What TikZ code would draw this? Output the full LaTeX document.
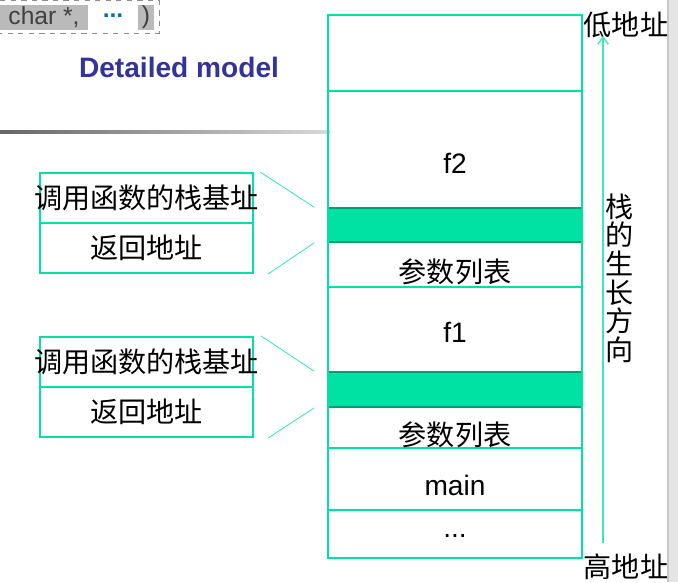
\documentclass[tikz,border=0pt]{standalone}
\usepackage{fontspec}
\setmainfont{Liberation Sans}
\newfontfamily\cjk{Noto Sans CJK SC}
\usetikzlibrary{arrows.meta}
\definecolor{stackgreen}{RGB}{0,226,164}
\definecolor{framegreen}{RGB}{0,160,112}
\definecolor{linkgreen}{RGB}{60,232,190}
\definecolor{titleblue}{RGB}{51,51,153}
\definecolor{dotblue}{RGB}{0,112,192}
\definecolor{codegray}{RGB}{186,186,186}
\tikzset{
  cell/.style={draw=stackgreen, line width=0.6pt},
  framecell/.style={draw=framegreen, fill=stackgreen, line width=0.9pt, minimum width=5.08cm, inner sep=0pt},
  infobox/.style={draw=stackgreen, line width=1.2pt, minimum width=4.26cm, minimum height=1cm, inner sep=0pt, font=\cjk\fontsize{16}{16}\selectfont},
  celltext/.style={font=\fontsize{16}{16}\selectfont},
  cjktext/.style={font=\cjk\fontsize{16}{16.3}\selectfont, align=center, inner sep=0pt},
  codebox/.style={fill=codegray, minimum height=0.5cm, inner sep=0pt, text=black!75, font=\fontsize{14}{14}\selectfont},
  link/.style={draw=linkgreen, line width=0.5pt}
}
\begin{document}
\begin{tikzpicture}[x=0.02cm, y=-0.02cm]
  \useasboundingbox (0,0) rectangle (678,582);
  \fill[black!10] (668,0) rectangle (678,582);
  \draw[black!22, line width=0.6pt] (668,0) -- (668,582);

  \draw[dashed, black!45, line width=0.5pt] (-2,0.5) rectangle (159,33);
  \node[codebox, minimum width=1.76cm] (argtype) at (44,17.5) {char *,};
  \node[font=\bfseries\fontsize{14}{14}\selectfont, text=dotblue, inner sep=0pt] (argdots) at (113,16) {...};
  \node[codebox, minimum width=0.32cm] (argclose) at (146,17.5) {)};
  \node[font=\bfseries\fontsize{16}{16}\selectfont, text=titleblue] (title) at (179,67) {Detailed model};
  \shade[left color=black!60, right color=black!15] (0,130) rectangle (330,133);

  \draw[cell] (328,91) -- (582,91);
  \draw[cell] (328,287) -- (582,287);
  \draw[cell] (328,448) -- (582,448);
  \draw[cell] (328,510) -- (582,510);
  \node[framecell, minimum height=0.68cm] (frame2) at (455,225) {};
  \node[framecell, minimum height=0.7cm] (frame1) at (455,389.5) {};
  \draw[stackgreen, line width=1.3pt] (328,15) rectangle (582,558);

  \node[celltext] (f2) at (455,163) {f2};
  \node[cjktext] (args2) at (455,272) {参数列表};
  \node[celltext] (f1) at (455,332) {f1};
  \node[cjktext] (args1) at (455,435) {参数列表};
  \node[celltext] (main) at (455,485) {main};
  \node[celltext] (rest) at (455,536) {...};

  \node[infobox] (call2) at (146.5,198) {\makebox[0pt]{\raisebox{-5pt}{调用函数的栈基址}}};
  \node[infobox] (ret2) at (146.5,248) {\makebox[0pt]{\raisebox{-3pt}{返回地址}}};
  \node[infobox] (call1) at (146.5,362) {\makebox[0pt]{\raisebox{-5pt}{调用函数的栈基址}}};
  \node[infobox] (ret1) at (146.5,412) {\makebox[0pt]{\raisebox{-3pt}{返回地址}}};

  \draw[link] ([xshift=0.12cm]call2.north east) -- ([xshift=-0.26cm]frame2.north west);
  \draw[link] ([xshift=0.28cm]ret2.south east) -- ([xshift=-0.26cm]frame2.south west);
  \draw[link] ([xshift=0.14cm]call1.north east) -- ([xshift=-0.26cm]frame1.north west);
  \draw[link] ([xshift=0.28cm]ret1.south east) -- ([xshift=-0.26cm]frame1.south west);

  \coordinate (highend) at (603,543);
  \coordinate (lowend) at (603,36);
  \draw[link, line width=0.8pt, -{Straight Barb[length=4pt, width=6pt]}] (highend) -- (lowend);
  \node[cjktext] (low) at (626,25) {低地址};
  \node[cjktext] (high) at (626,567) {高地址};
  \node[cjktext] (growth) at (620,278) {栈\\的\\生\\长\\方\\向};
\end{tikzpicture}
\end{document}
